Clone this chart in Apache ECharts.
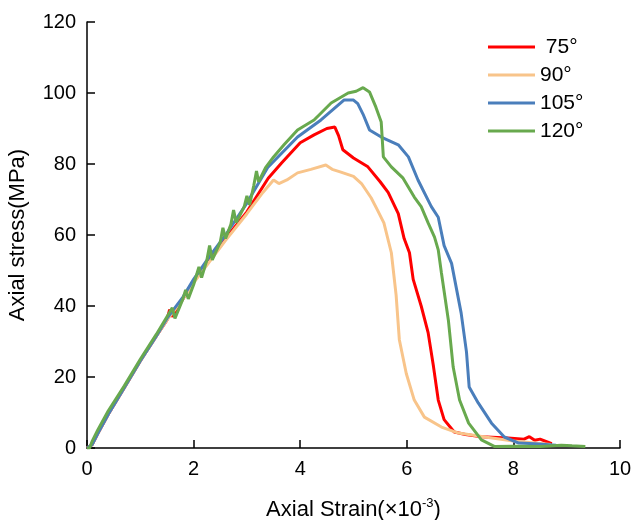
<!DOCTYPE html>
<html><head><meta charset="utf-8">
<script src="https://cdn.jsdelivr.net/npm/echarts@6/dist/echarts.min.js"></script>
<style>html,body{margin:0;padding:0;background:#fff}#c{width:631px;height:520px}</style>
</head><body><div id="c"></div>
<script>
const seriesNames = [' 75°', '90°', '105°', '120°'];
const xTicks = [0, 2, 4, 6, 8, 10];
const yTicks = [0, 20, 40, 60, 80, 100, 120];

const s75 = [[0,0],[0.1,1],[0.2,4],[0.4,9.5],[0.7,17],[1.0,24.5],[1.3,31.5],[1.5,36],[1.55,39],[1.6,37],[1.8,42],[2.0,47],[2.3,53],[2.6,59],[3.0,66.5],[3.4,76],[3.65,80.3],[4.0,86],[4.26,88.2],[4.5,90],[4.65,90.4],[4.72,88],[4.8,84],[5.0,81.7],[5.27,79.2],[5.5,75],[5.65,72],[5.84,66],[5.95,59],[6.05,55],[6.12,47.5],[6.27,40],[6.4,32.5],[6.5,23],[6.59,13.5],[6.7,8],[6.89,4.5],[7.1,3.8],[7.4,3.2],[7.9,2.8],[8.2,2.5],[8.3,3.2],[8.4,2.2],[8.5,2.5],[8.72,1.2]];
const s90 = [[0,0],[0.1,1],[0.2,4],[0.4,9.5],[0.7,17],[1.0,24.5],[1.3,31.5],[1.5,36],[1.8,42],[2.0,46.5],[2.3,52.5],[2.6,58.5],[3.0,66],[3.3,72],[3.5,75.5],[3.6,74.5],[3.75,75.5],[3.95,77.5],[4.2,78.5],[4.48,79.7],[4.6,78.5],[4.75,77.8],[5.0,76.5],[5.15,74.5],[5.33,70.5],[5.45,67],[5.57,63.4],[5.71,55],[5.8,43],[5.86,30.5],[5.99,21],[6.14,13.5],[6.33,8.7],[6.65,5.9],[6.97,4.2],[7.5,3],[8.0,2],[8.7,1]];
const s105 = [[0,0],[0.1,1],[0.2,4],[0.4,9.5],[0.7,17],[1.0,24.5],[1.3,31.5],[1.5,36.5],[1.8,42.5],[2.0,47.5],[2.3,54],[2.6,60],[3.0,69],[3.39,79],[3.95,87.6],[4.39,92.4],[4.82,98],[5.0,98],[5.08,97],[5.18,94],[5.3,89.6],[5.52,87.6],[5.84,85.4],[6.03,82],[6.21,75.5],[6.46,68],[6.59,65],[6.7,57],[6.84,52],[7.02,38],[7.12,27],[7.17,17.2],[7.34,12.7],[7.59,7],[7.83,3.1],[8.1,1.4],[8.4,1.2],[8.8,0.8]];
const s120 = [[0,0],[0.05,0],[0.1,2],[0.2,5],[0.4,10.5],[0.7,17.5],[1.0,25],[1.3,32],[1.5,37],[1.6,39.5],[1.65,36.5],[1.8,42],[1.85,44.5],[1.9,42],[2.0,46],[2.1,51],[2.15,48],[2.25,53],[2.3,57],[2.35,53],[2.5,58],[2.55,62],[2.6,59],[2.7,63],[2.75,67],[2.8,63.5],[2.95,68],[3.0,71],[3.05,68.5],[3.13,74],[3.18,78],[3.22,75],[3.35,79],[3.5,82],[3.7,85.5],[3.95,89.6],[4.26,92.4],[4.58,97.2],[4.9,100],[5.05,100.5],[5.18,101.5],[5.3,100.3],[5.42,96],[5.52,91.8],[5.56,82],[5.71,79.2],[5.93,76],[6.14,70.7],[6.27,68],[6.4,63.4],[6.52,59.4],[6.59,55.8],[6.65,49.3],[6.78,36],[6.87,22.8],[6.99,13.5],[7.16,7],[7.4,2.3],[7.65,0.4],[8.0,0.5],[8.5,0.4],[8.9,0.8],[9.1,0.6],[9.35,0.4]];

const colors = ['#ff0000', '#f8c48a', '#4a7ebb', '#68a94e'];
const datasets = [s75, s90, s105, s120];

const font = 'Liberation Sans, Arial, sans-serif';
const chart = echarts.init(document.getElementById('c'));
chart.setOption({
  animation: false,
  backgroundColor: '#fff',
  grid: {left: 87, right: 11, top: 22, bottom: 72, containLabel: false, outerBoundsMode: 'none'},
  legend: {
    orient: 'vertical', left: 488, top: 36, padding: 0, itemWidth: 47, itemHeight: 3, itemGap: 6,
    textStyle: {fontFamily: font, fontSize: 21, color: '#000', lineHeight: 22},
    data: seriesNames.map(n => ({name: n, icon: 'rect'}))
  },
  xAxis: {
    type: 'value', min: xTicks[0], max: xTicks[xTicks.length-1], interval: 2,
    name: '{a|Axial Strain(×10}{s|-3}{a|)}', nameLocation: 'middle', nameGap: 49,
    nameTextStyle: {rich: {a: {fontFamily: font, fontSize: 22, color: '#000'}, s: {fontFamily: font, fontSize: 13, color: '#000', verticalAlign: 'top', padding: [0,0,12,0]}}},
    axisLine: {lineStyle: {color: '#000', width: 1.5}},
    axisTick: {inside: true, length: 8, lineStyle: {color: '#000', width: 1.5}},
    axisLabel: {fontFamily: font, fontSize: 20, color: '#000', margin: 11},
    splitLine: {show: false}
  },
  yAxis: {
    type: 'value', min: yTicks[0], max: yTicks[yTicks.length-1], interval: 20,
    name: 'Axial stress(MPa)', nameLocation: 'middle', nameGap: 58,
    nameTextStyle: {fontFamily: font, fontSize: 22, color: '#000'},
    axisLine: {show: true, lineStyle: {color: '#000', width: 1.5}},
    axisTick: {show: true, inside: true, length: 8, lineStyle: {color: '#000', width: 1.5}},
    axisLabel: {fontFamily: font, fontSize: 20, color: '#000', margin: 11},
    splitLine: {show: false}
  },
  series: datasets.map((d, i) => ({
    name: seriesNames[i], type: 'line', data: d, symbol: 'none', smooth: false,
    lineStyle: {color: colors[i], width: 3}, itemStyle: {color: colors[i]}
  }))
});
</script></body></html>
